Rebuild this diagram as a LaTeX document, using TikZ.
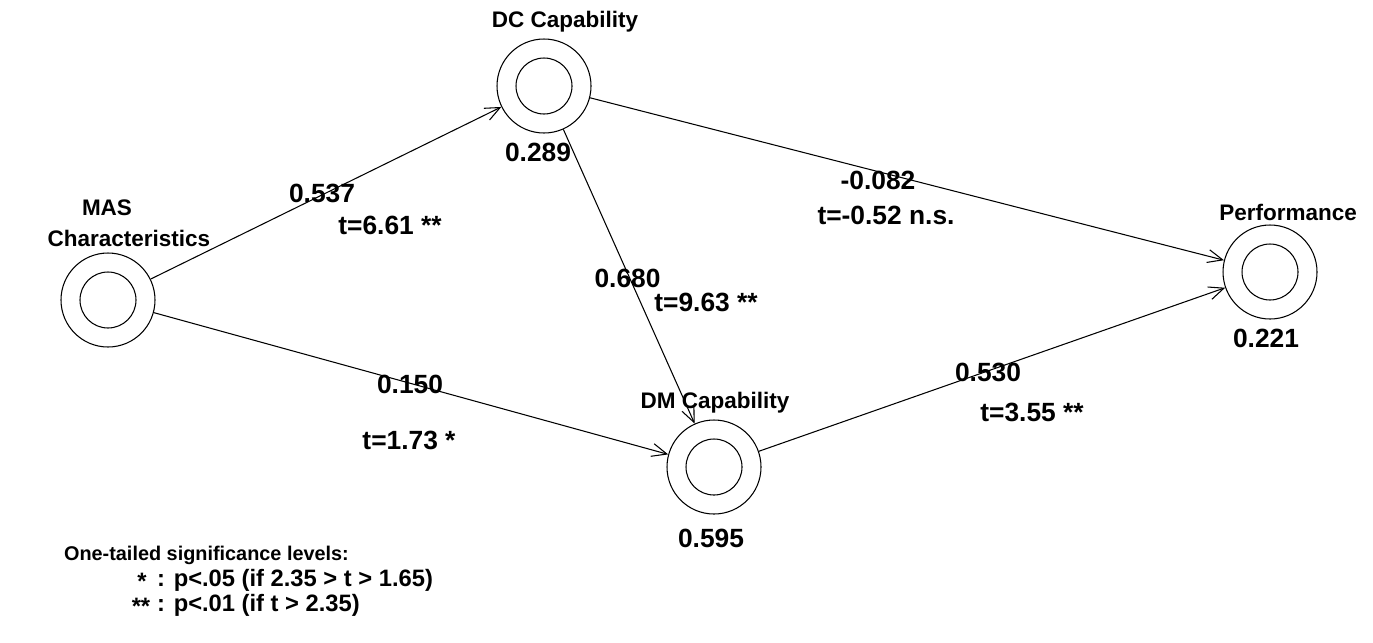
\documentclass[tikz,border=0pt]{standalone}
\usepackage{fontspec}
\setmainfont{Liberation Sans}
\usetikzlibrary{arrows.meta}

\begin{document}
\begin{tikzpicture}[
    font=\bfseries,
    >={Straight Barb[length=3mm,width=2.6mm]},
    construct/.style={draw, circle, line width=0.6pt, minimum size=1.88cm, inner sep=0pt},
    path/.style={->, line width=0.6pt},
    lbl/.style={inner sep=1pt, font=\fontsize{12.8}{14}\selectfont\bfseries},
    num/.style={inner sep=1pt, font=\fontsize{15}{17}\selectfont\bfseries},
    legnum/.style={inner sep=1pt, font=\fontsize{13.5}{16}\selectfont\bfseries}
]
\useasboundingbox (0,0) rectangle (27.46,-12.84);

% latent variables
\node[construct] (mas)  at (2.16,-6.00)  {};
\node[construct] (dc)   at (10.88,-1.72) {};
\node[construct] (dm)   at (14.28,-9.34) {};
\node[construct] (perf) at (25.40,-5.44) {};
\foreach \v in {mas,dc,dm,perf}
  \draw[line width=0.6pt] (\v.center) circle[radius=0.56];

% names and R^2
\node[lbl] (masname) at (2.14,-4.16) {MAS};
\node[lbl] (maschar) at (2.58,-4.76) {Characteristics};
\node[lbl] (dcname) at (11.30,-0.44) {DC Capability};
\node[num] (dcr)    at (10.76,-3.04) {0.289};
\node[lbl] (dmname) at (14.30,-8.06) {DM Capability};
\node[num] (dmr)    at (14.22,-10.76) {0.595};
\node[lbl] (pname)  at (25.76,-4.24) {Performance};
\node[num] (pr)     at (25.32,-6.76) {0.221};

% paths
\draw[path] (mas) -- (dc);
\draw[path] (mas) -- (dm);
\draw[path] (dc) -- (dm);
\draw[path] (dc) -- (perf);
\draw[path] (dm) -- (perf);

% path coefficients and t values
\node[num] (b1) at (6.44,-3.86) {0.537};
\node[num] (t1) at (7.80,-4.50) {t=6.61 **};
\node[num] (b2) at (8.20,-7.68) {0.150};
\node[num] (t2) at (8.18,-8.80) {t=1.73 *};
\node[num] (b3) at (12.55,-5.56) {0.680};
\node[num] (t3) at (14.12,-6.04) {t=9.63 **};
\node[num] (b4) at (17.56,-3.60) {-0.082};
\node[num] (t4) at (17.72,-4.30) {t=-0.52 n.s.};
\node[num] (b5) at (19.76,-7.44) {0.530};
\node[num] (t5) at (20.64,-8.24) {t=3.55 **};

% legend
\node[lbl, font=\fontsize{11.3}{14}\selectfont\bfseries, anchor=west] (leg)  at (1.24,-11.10) {One-tailed significance levels:};
\node[legnum] (s1) at (2.84,-11.62) {*};
\node[legnum, anchor=west] (l1) at (3.10,-11.60) {: p<.05 (if 2.35 > t > 1.65)};
\node[legnum] (s2) at (2.82,-12.12) {**};
\node[legnum, anchor=west] (l2) at (3.10,-12.10) {: p<.01 (if t > 2.35)};
\end{tikzpicture}
\end{document}
